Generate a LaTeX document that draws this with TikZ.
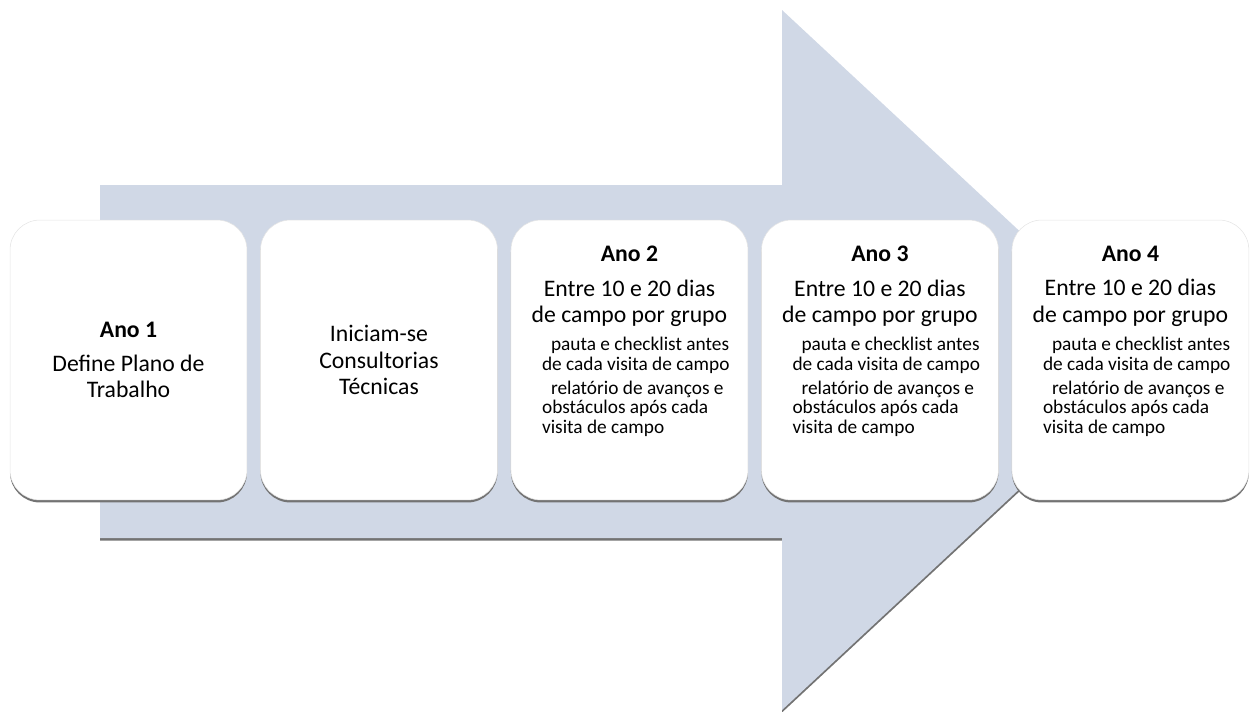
\documentclass[tikz,border=0pt]{standalone}
\usepackage{fontspec}
\setmainfont{Carlito}
\usetikzlibrary{positioning,shadows}
\definecolor{arrowfill}{HTML}{D0D8E6}
\definecolor{edgegray}{HTML}{E4E4E4}

\begin{document}
\begin{tikzpicture}[x=0.02cm, y=-0.02cm]
    % Styles
    \tikzstyle{softshadow} = [drop shadow={shadow xshift=0cm, shadow yshift=-0.05cm, fill=black!55, opacity=1}]
    \tikzstyle{arrowbody} = [fill=arrowfill, softshadow]
    \tikzstyle{stage} = [rectangle, rounded corners=0.6cm, minimum width=4.74cm, minimum height=5.6cm, inner sep=0pt, fill=white, draw=edgegray, line width=0.3pt, softshadow, align=center, font=\fontsize{13.5}{15}\selectfont]
    \tikzstyle{head} = [inner sep=0pt, align=center, font=\fontsize{13.5}{15}\selectfont]
    \tikzstyle{note} = [inner sep=0pt, align=left, font=\fontsize{11}{11.1}\selectfont]

    \useasboundingbox (0,0) rectangle (1254,711);

    % Seta de fundo
    \path[arrowbody] (100,185) -- (782,185) -- (782,10) -- (1158,360) -- (782,710) -- (782,538) -- (100,538) -- cycle;

    % Etapas
    \node (ano1) [stage] at (128.5,360) {\textbf{Ano 1}\\[0.16cm]Define Plano de\\Trabalho};
    \node (ano2) [stage, right=0.26cm of ano1] {Iniciam-se\\Consultorias\\Técnicas};
    \node (ano3) [stage, right=0.26cm of ano2] {};
    \node (ano4) [stage, right=0.26cm of ano3] {};
    \node (ano5) [stage, right=0.26cm of ano4] {};

    % Textos dos anos 2 a 4
    \foreach \i/\ano in {3/2, 4/3, 5/4} {
        \node (head\i) [head, below=0.52cm of ano\i.north] {\textbf{Ano \ano}\\[0.16cm]Entre 10 e 20 dias\\de campo por grupo};
        \node (note\i) [note, below right=2.34cm and 0.62cm of ano\i.north west] {\hspace*{0.18cm}pauta e checklist antes\\de cada visita de campo\\[0.09cm]\hspace*{0.18cm}relatório de avanços e\\obstáculos após cada\\visita de campo};
    }
\end{tikzpicture}
\end{document}
